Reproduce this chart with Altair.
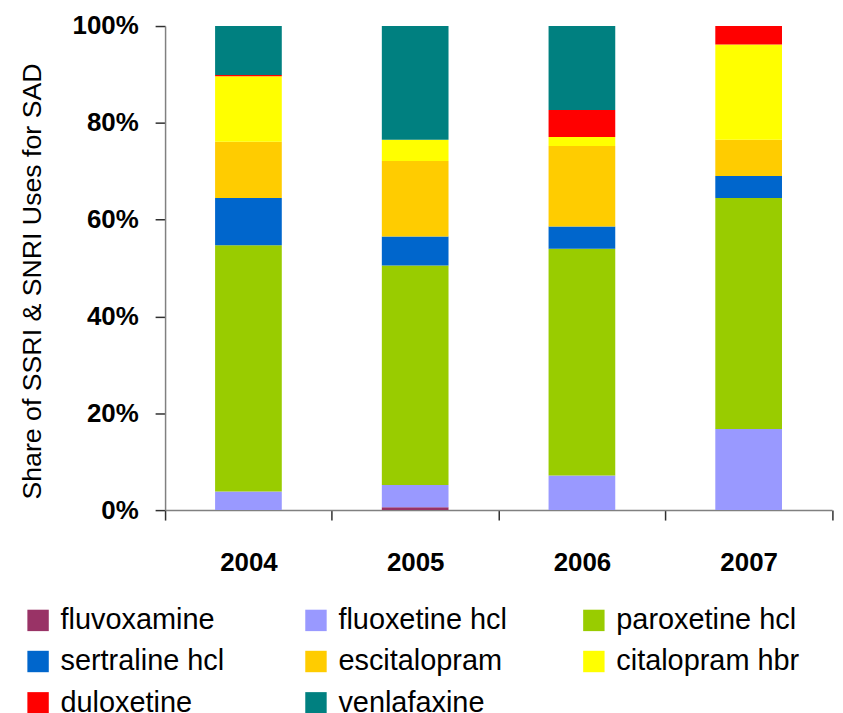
import altair as alt
import pandas as pd

years = ["2004", "2005", "2006", "2007"]
drugs = ["fluvoxamine", "fluoxetine hcl", "paroxetine hcl", "sertraline hcl",
         "escitalopram", "citalopram hbr", "duloxetine", "venlafaxine"]
colors = ["#993366", "#9999FF", "#99CC00", "#0066CC",
          "#FFCC00", "#FFFF00", "#FF0000", "#008080"]

fluvoxamine = [0.0, 0.6, 0.0, 0.0]
fluoxetine = [3.85, 4.6, 7.15, 16.75]
paroxetine = [50.85, 45.35, 46.85, 47.75]
sertraline = [9.8, 5.95, 4.6, 4.5]
escitalopram = [11.57, 15.6, 16.6, 7.5]
citalopram = [13.58, 4.4, 1.9, 19.7]
duloxetine = [0.25, 0.0, 5.55, 3.8]
venlafaxine = [10.1, 23.5, 17.35, 0.0]

series = [fluvoxamine, fluoxetine, paroxetine, sertraline,
          escitalopram, citalopram, duloxetine, venlafaxine]

rows = []
for i, (name, vals) in enumerate(zip(drugs, series)):
    for y, v in zip(years, vals):
        rows.append({"year": y, "drug": name, "share": v, "idx": i})
df = pd.DataFrame(rows)

FONT = "Liberation Sans, Arial, sans-serif"

chart = alt.Chart(df).mark_bar(width=alt.RelativeBandSize(0.4)).encode(
    x=alt.X("year:N", sort=years,
            scale=alt.Scale(paddingInner=0, paddingOuter=0),
            axis=alt.Axis(title=None, tickBand="extent", labelAngle=0,
                          labelFont=FONT, labelFontSize=26, labelFontWeight="bold",
                          labelColor="#000000", labelPadding=30,
                          tickSize=10, tickColor="#303030", tickWidth=1.5,
                          domainColor="#808080", domainWidth=1.5)),
    y=alt.Y("share:Q", stack="zero",
            scale=alt.Scale(domain=[0, 100], nice=False),
            axis=alt.Axis(title="Share of SSRI & SNRI Uses for SAD",
                          values=[0, 20, 40, 60, 80, 100],
                          labelExpr="datum.value + '%'",
                          labelFont=FONT, labelFontSize=26, labelFontWeight="bold",
                          labelColor="#000000", labelPadding=17,
                          tickSize=10, tickColor="#303030", tickWidth=1.5,
                          domainColor="#808080", domainWidth=1.5,
                          grid=False,
                          titleFont=FONT, titleFontSize=26.8, titleFontWeight="normal",
                          titleColor="#000000", titlePadding=26, titleY=256)),
    color=alt.Color("drug:N",
                    scale=alt.Scale(domain=drugs, range=colors),
                    legend=alt.Legend(title=None, orient="none",
                                      legendX=-142, legendY=582,
                                      direction="horizontal",
                                      columns=3, gridAlign="all",
                                      columnPadding=58, rowPadding=11.5,
                                      symbolType="square", symbolSize=462,
                                      symbolStrokeWidth=0, symbolOpacity=1,
                                      labelFont=FONT, labelFontSize=29,
                                      labelColor="#000000", labelOffset=8,
                                      labelLimit=400)),
    order=alt.Order("idx:Q", sort="ascending"),
).properties(
    width=669.6,
    height=486,
    autosize=alt.AutoSizeParams(type="none"),
    padding={"left": 157.7, "top": 16.7, "right": 3, "bottom": 205},
).configure_view(stroke=None)

chart.save("out.html", embed_options={"renderer": "svg", "actions": False})
